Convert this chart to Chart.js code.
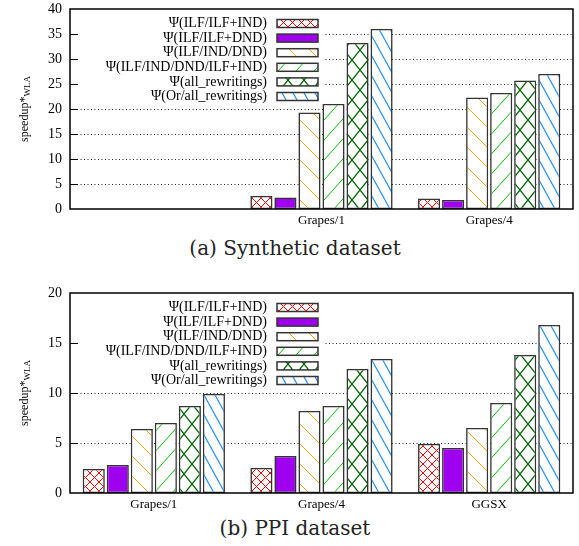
<!DOCTYPE html>
<html>
<head>
<meta charset="utf-8">
<script src="https://cdn.jsdelivr.net/npm/chart.js@4.4.0/dist/chart.umd.min.js"></script>
<style>
body { margin: 0; background: #fff; }
#wrap { position: relative; width: 579px; height: 546px; overflow: hidden; }
canvas { position: absolute; left: 0; }
.cap { position: absolute; left: 0; width: 590px; text-align: center; font-family: 'DejaVu Serif'; font-size: 20px; line-height: 24px; color: #222; }
</style>
</head>
<body>
<div id="wrap">
  <canvas id="synth" width="579" height="232" style="top:0"></canvas>
  <div class="cap" style="top:236px">(a) Synthetic dataset</div>
  <canvas id="ppi" width="579" height="232" style="top:284px"></canvas>
  <div class="cap" style="top:516px">(b) PPI dataset</div>
</div>
<script>
// series names (same for both plots)
var seriesNames = [
    'Ψ(ILF/ILF+IND)',
    'Ψ(ILF/ILF+DND)',
    'Ψ(ILF/IND/DND)',
    'Ψ(ILF/IND/DND/ILF+IND)',
    'Ψ(all_rewritings)',
    'Ψ(Or/all_rewritings)'
];

// (a) synthetic dataset, first group left empty for the key
var synthLabels = ['', 'Grapes/1', 'Grapes/4'];
var synthIlfIlfInd = [null, 2.6, 2.1];
var synthIlfIlfDnd = [null, 2.3, 1.8];
var synthIlfIndDnd = [null, 19.3, 22.3];
var synthIlfIndDndIlfInd = [null, 21.0, 23.2];
var synthAll = [null, 33.2, 25.7];
var synthOrAll = [null, 36.0, 27.0];
var synthTicks = [0, 5, 10, 15, 20, 25, 30, 35, 40];

// (b) PPI dataset
var ppiLabels = ['Grapes/1', 'Grapes/4', 'GGSX'];
var ppiIlfIlfInd = [2.4, 2.5, 4.9];
var ppiIlfIlfDnd = [2.8, 3.7, 4.5];
var ppiIlfIndDnd = [6.4, 8.2, 6.5];
var ppiIlfIndDndIlfInd = [7.0, 8.7, 9.0];
var ppiAll = [8.7, 12.4, 13.8];
var ppiOrAll = [9.9, 13.4, 16.8];
var ppiTicks = [0, 5, 10, 15, 20];

var serif = '"Liberation Serif", serif';
Chart.defaults.font.family = serif;
Chart.defaults.color = '#000';

// build a hatch pattern on a small white tile
function hatch(color, w, h, dirs, lw) {
    var c = document.createElement('canvas');
    c.width = w; c.height = h;
    var g = c.getContext('2d');
    g.fillStyle = '#fff';
    g.fillRect(0, 0, w, h);
    g.strokeStyle = color;
    g.lineWidth = lw;
    g.beginPath();
    dirs.forEach(function (d) {
        for (var k = -1; k <= 1; k++) {
            if (d === '\\') { g.moveTo(k * w, 0); g.lineTo(k * w + w, h); }
            else { g.moveTo(k * w, h); g.lineTo(k * w + w, 0); }
        }
    });
    g.stroke();
    return g.createPattern(c, 'repeat');
}

var fills = [
    hatch('#ff0000', 9, 9, ['\\', '/'], 1),
    '#a000f0',
    hatch('#ffa500', 20, 20, ['\\'], 1),
    hatch('#00c000', 18, 20, ['/'], 1),
    hatch('#006400', 16, 20, ['\\', '/'], 1.3),
    hatch('#1e90ff', 11, 20, ['\\'], 1.2)
];

// dotted grid + white key background (under the bars)
var gridPlugin = {
    id: 'gridPlugin',
    beforeDatasetsDraw: function (chart) {
        var ctx = chart.ctx, a = chart.chartArea, y = chart.scales.y;
        ctx.save();
        ctx.strokeStyle = '#222';
        ctx.lineWidth = 1;
        ctx.setLineDash([1, 2.5]);
        y.ticks.forEach(function (t) {
            if (t.value <= 0 || t.value >= y.max) return;
            var py = Math.round(y.getPixelForValue(t.value)) + 0.5;
            ctx.beginPath();
            ctx.moveTo(a.left, py);
            ctx.lineTo(a.right, py);
            ctx.stroke();
        });
        ctx.setLineDash([]);
        ctx.fillStyle = '#fff';
        ctx.fillRect(a.left + 1, a.top + 1, 253, 95);
        ctx.restore();
    }
};

// key, frame, tick marks and y title
var framePlugin = {
    id: 'framePlugin',
    afterDraw: function (chart) {
        var ctx = chart.ctx, a = chart.chartArea, y = chart.scales.y;
        ctx.save();
        // key
        ctx.font = '14px ' + serif;
        ctx.textAlign = 'right';
        ctx.textBaseline = 'middle';
        chart.data.datasets.forEach(function (ds, i) {
            var cy = a.top + 14.5 + i * 14.6;
            ctx.fillStyle = '#000';
            ctx.fillText(ds.label, 267, cy);
            ctx.fillStyle = ds.backgroundColor;
            ctx.fillRect(277, cy - 4, 41, 8);
            ctx.strokeStyle = '#333';
            ctx.lineWidth = 1.5;
            ctx.strokeRect(277, cy - 4, 41, 8);
        });
        // tick marks
        ctx.strokeStyle = '#000';
        ctx.lineWidth = 1;
        y.ticks.forEach(function (t) {
            if (t.value <= 0 || t.value >= y.max) return;
            var py = Math.round(y.getPixelForValue(t.value)) + 0.5;
            ctx.beginPath();
            ctx.moveTo(a.left, py);
            ctx.lineTo(a.left + 8, py);
            ctx.stroke();
        });
        // frame
        ctx.lineWidth = 1.5;
        ctx.strokeStyle = '#000';
        ctx.strokeRect(a.left, a.top, a.right - a.left, a.bottom - a.top);
        // y title: speedup*_WLA
        ctx.translate(25, (a.top + a.bottom) / 2);
        ctx.rotate(-Math.PI / 2);
        ctx.textAlign = 'left';
        ctx.font = '12px ' + serif;
        var w1 = ctx.measureText('speedup*').width;
        ctx.font = '9px ' + serif;
        var w2 = ctx.measureText('WLA').width;
        var x0 = -(w1 + w2) / 2;
        ctx.fillStyle = '#000';
        ctx.font = '12px ' + serif;
        ctx.fillText('speedup*', x0, 0);
        ctx.font = '9px ' + serif;
        ctx.fillText('WLA', x0 + w1, 3);
        ctx.restore();
    }
};

function makeChart(id, labels, series, ticks) {
    var yMax = ticks[ticks.length - 1];
    var ctx = document.getElementById(id).getContext('2d');
    return new Chart(ctx, {
        type: 'bar',
        data: {
            labels: labels,
            datasets: series.map(function (vals, i) {
                return {
                    label: seriesNames[i],
                    data: vals,
                    backgroundColor: fills[i],
                    borderColor: '#333',
                    borderWidth: 1.6,
                    borderSkipped: false,
                    categoryPercentage: 0.86,
                    barPercentage: 0.92
                };
            })
        },
        options: {
            responsive: false,
            animation: false,
            layout: { padding: { top: 9, right: 6, left: 0, bottom: 0 } },
            plugins: {
                legend: { display: false },
                tooltip: { enabled: false }
            },
            scales: {
                x: {
                    grid: { display: false, drawTicks: false },
                    border: { display: false },
                    ticks: { font: { size: 13, family: serif }, padding: 4, maxRotation: 0 },
                    afterFit: function (s) {
                        s.height = 23;
                        s.paddingLeft = 0; s.paddingRight = 0;
                    }
                },
                y: {
                    min: 0,
                    max: yMax,
                    afterBuildTicks: function (s) {
                        s.ticks = ticks.map(function (v) { return { value: v }; });
                    },
                    grid: { display: false, drawTicks: false },
                    border: { display: false },
                    ticks: { font: { size: 14, family: serif }, padding: 8 },
                    afterFit: function (s) {
                        s.width = 70;
                        s.paddingTop = 0; s.paddingBottom = 0;
                    }
                }
            }
        },
        plugins: [gridPlugin, framePlugin]
    });
}

makeChart('synth', synthLabels,
    [synthIlfIlfInd, synthIlfIlfDnd, synthIlfIndDnd, synthIlfIndDndIlfInd, synthAll, synthOrAll],
    synthTicks);
makeChart('ppi', ppiLabels,
    [ppiIlfIlfInd, ppiIlfIlfDnd, ppiIlfIndDnd, ppiIlfIndDndIlfInd, ppiAll, ppiOrAll],
    ppiTicks);
</script>
</body>
</html>
